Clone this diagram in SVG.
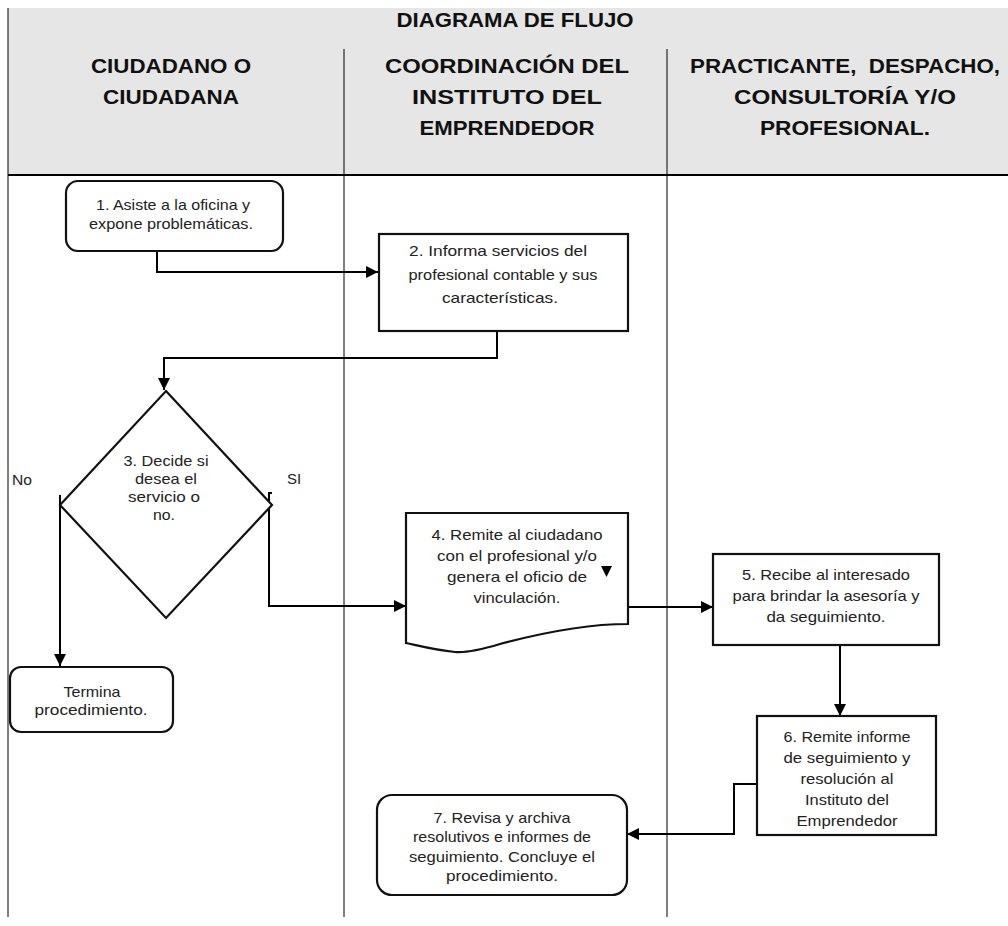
<svg xmlns="http://www.w3.org/2000/svg" width="1008" height="926" viewBox="0 0 1008 926">
<defs>
<style>
.hdr{font-family:"Liberation Sans",Arial,sans-serif;font-weight:bold;font-size:21px;fill:#111;text-anchor:middle}
.t{font-family:"Liberation Sans",Arial,sans-serif;font-size:15px;fill:#222;text-anchor:middle}
.box{fill:#fff;stroke:#111;stroke-width:2.2}
.con{fill:none;stroke:#000;stroke-width:2}
.lane{stroke:#000;stroke-width:1}
</style>
<marker id="ah" markerWidth="12" markerHeight="12" refX="10" refY="5" orient="auto" markerUnits="userSpaceOnUse" viewBox="0 0 10 10">
<path d="M0,0 L10,5 L0,10 Z" fill="#000"/>
</marker>
</defs>
<rect width="1008" height="926" fill="#fff"/>
<g id="header">
<rect x="8" y="8" width="1000" height="167" fill="#e6e6e6"/>
<line x1="8" y1="175" x2="1008" y2="175" stroke="#000" stroke-width="2"/>
<text class="hdr" x="515" y="27" textLength="237" lengthAdjust="spacingAndGlyphs">DIAGRAMA DE FLUJO</text>
<text class="hdr" x="171" y="73" textLength="160" lengthAdjust="spacingAndGlyphs">CIUDADANO O</text>
<text class="hdr" x="171" y="104" textLength="136" lengthAdjust="spacingAndGlyphs">CIUDADANA</text>
<text class="hdr" x="507" y="73" textLength="244" lengthAdjust="spacingAndGlyphs">COORDINACIÓN DEL</text>
<text class="hdr" x="507" y="104" textLength="190" lengthAdjust="spacingAndGlyphs">INSTITUTO DEL</text>
<text class="hdr" x="507" y="135" textLength="175" lengthAdjust="spacingAndGlyphs">EMPRENDEDOR</text>
<text class="hdr" x="845" y="73" textLength="310" lengthAdjust="spacingAndGlyphs" xml:space="preserve">PRACTICANTE,  DESPACHO,</text>
<text class="hdr" x="845" y="104" textLength="222" lengthAdjust="spacingAndGlyphs">CONSULTORÍA Y/O</text>
<text class="hdr" x="845" y="135" textLength="170" lengthAdjust="spacingAndGlyphs">PROFESIONAL.</text>
</g>
<g id="lanes">
<line class="lane" x1="8" y1="8" x2="8" y2="917" stroke-width="1.5"/>
<line class="lane" x1="344" y1="49" x2="344" y2="917"/>
<line class="lane" x1="667" y1="49" x2="667" y2="917"/>
</g>
<g id="connectors">
<path class="con" d="M157,251 V272 H378" marker-end="url(#ah)"/>
<path class="con" d="M497,331 V358 H164 V390" marker-end="url(#ah)"/>
<path class="con" d="M60,495 V666" marker-end="url(#ah)"/>
<path class="con" d="M272,493 H269 V606 H406" marker-end="url(#ah)"/>
<path class="con" d="M628,607 H713" marker-end="url(#ah)"/>
<path class="con" d="M840,645 V716" marker-end="url(#ah)"/>
<path class="con" d="M757,784 H734 V834 H627" marker-end="url(#ah)"/>
</g>
<g id="n1">
<rect class="box" x="66" y="181" width="217" height="70" rx="12"/>
<text class="t" x="173" y="210" textLength="154" lengthAdjust="spacingAndGlyphs">1. Asiste a la oficina y</text>
<text class="t" x="171" y="229" textLength="164" lengthAdjust="spacingAndGlyphs">expone problemáticas.</text>
</g>
<g id="n2">
<rect class="box" x="379" y="234" width="249" height="97"/>
<text class="t" x="498" y="256" textLength="178" lengthAdjust="spacingAndGlyphs">2. Informa servicios del</text>
<text class="t" x="503" y="280" textLength="189" lengthAdjust="spacingAndGlyphs">profesional contable y sus</text>
<text class="t" x="500" y="303" textLength="116" lengthAdjust="spacingAndGlyphs">características.</text>
</g>
<g id="n3">
<polygon class="box" points="166,391 272,505 166,618 60,505"/>
<text class="t" x="166" y="466" textLength="85" lengthAdjust="spacingAndGlyphs">3. Decide si</text>
<text class="t" x="166" y="484" textLength="62" lengthAdjust="spacingAndGlyphs">desea el</text>
<text class="t" x="164" y="502" textLength="72" lengthAdjust="spacingAndGlyphs">servicio o</text>
<text class="t" x="164" y="520" textLength="22" lengthAdjust="spacingAndGlyphs">no.</text>
<text class="t" x="22" y="485" textLength="20" lengthAdjust="spacingAndGlyphs">No</text>
<text class="t" x="294" y="484">SI</text>
</g>
<g id="n4">
<path class="box" d="M406,513 H628 V624 C600,624 560,628 500,644 C480,650 465,653 455,652 C435,650 420,646 406,643 Z"/>
<text class="t" x="517" y="540" textLength="171" lengthAdjust="spacingAndGlyphs">4. Remite al ciudadano</text>
<text class="t" x="517" y="561" textLength="160" lengthAdjust="spacingAndGlyphs">con el profesional y/o</text>
<text class="t" x="517" y="582" textLength="140" lengthAdjust="spacingAndGlyphs">genera el oficio de</text>
<text class="t" x="517" y="603" textLength="87" lengthAdjust="spacingAndGlyphs">vinculación.</text>
<polygon points="601,566 612,566 606.5,577" fill="#000"/>
</g>
<g id="n5">
<rect class="box" x="713" y="554" width="226" height="91"/>
<text class="t" x="826" y="580" textLength="168" lengthAdjust="spacingAndGlyphs">5. Recibe al interesado</text>
<text class="t" x="826" y="601" textLength="187" lengthAdjust="spacingAndGlyphs">para brindar la asesoría y</text>
<text class="t" x="826" y="622" textLength="119" lengthAdjust="spacingAndGlyphs">da seguimiento.</text>
</g>
<g id="n6">
<rect class="box" x="757" y="716" width="179" height="119"/>
<text class="t" x="847" y="742" textLength="127" lengthAdjust="spacingAndGlyphs">6. Remite informe</text>
<text class="t" x="847" y="763" textLength="127" lengthAdjust="spacingAndGlyphs">de seguimiento y</text>
<text class="t" x="847" y="784" textLength="93" lengthAdjust="spacingAndGlyphs">resolución al</text>
<text class="t" x="847" y="805" textLength="84" lengthAdjust="spacingAndGlyphs">Instituto del</text>
<text class="t" x="847" y="826" textLength="101" lengthAdjust="spacingAndGlyphs">Emprendedor</text>
</g>
<g id="n7">
<rect class="box" x="377" y="795" width="250" height="100" rx="15"/>
<text class="t" x="502" y="823" textLength="137" lengthAdjust="spacingAndGlyphs">7. Revisa y archiva</text>
<text class="t" x="502" y="842" textLength="178" lengthAdjust="spacingAndGlyphs">resolutivos e informes de</text>
<text class="t" x="502" y="862" textLength="186" lengthAdjust="spacingAndGlyphs">seguimiento. Concluye el</text>
<text class="t" x="502" y="881" textLength="112" lengthAdjust="spacingAndGlyphs">procedimiento.</text>
</g>
<g id="end">
<rect class="box" x="10" y="667" width="163" height="65" rx="11"/>
<text class="t" x="92" y="697" textLength="57" lengthAdjust="spacingAndGlyphs">Termina</text>
<text class="t" x="91" y="715" textLength="113" lengthAdjust="spacingAndGlyphs">procedimiento.</text>
</g>
</svg>
